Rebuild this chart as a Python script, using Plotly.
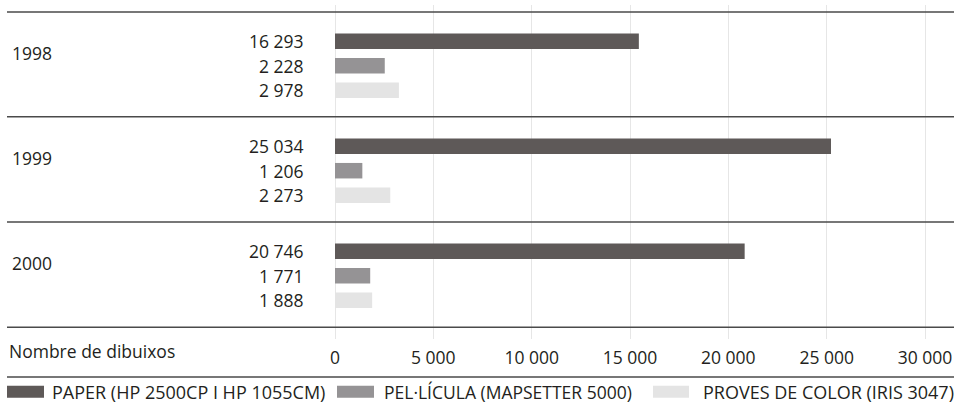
import plotly.graph_objects as go

# ---------------- data ----------------
years = ["1998", "1999", "2000"]
series_names = [
    "PAPER (HP 2500CP I HP 1055CM)",
    "PEL·LÍCULA (MAPSETTER 5000)",
    "PROVES DE COLOR (IRIS 3047)",
]
# bar lengths as drawn in the picture
paper = [15450, 25220, 20830]
pelicula = [2530, 1390, 1790]
proves = [3250, 2810, 1890]
# numbers printed next to the bars
paper_labels = ["16 293", "25 034", "20 746"]
pelicula_labels = ["2 228", "1 206", "1 771"]
proves_labels = ["2 978", "2 273", "1 888"]
tick_values = [0, 5000, 10000, 15000, 20000, 25000, 30000]
tick_labels = ["0", "5 000", "10 000", "15 000", "20 000", "25 000", "30 000"]
axis_title = "Nombre de dibuixos"

# ---------------- style ----------------
colors = ["#5e5958", "#959395", "#e4e4e4"]
W, H = 954, 407
FONT = "Open Sans"
FS = 17.5
TXT = "#231f20"
LINE = "#4a4a4a"


def py(px):
    return 1 - px / H


def pxx(px):
    return px / W


x0_px, x30_px = 335, 925
scale = (x30_px - x0_px) / 30000.0
x_range = [-x0_px / scale, (W - x0_px) / scale]

band = 105.0
top_px, bot_px = 5, 339
first_center = 65.7
y_range = [2 + (bot_px - (first_center + 2 * band)) / band,
           -(first_center - top_px) / band]

fig = go.Figure()
values = [paper, pelicula, proves]
for name, vals, col in zip(series_names, values, colors):
    fig.add_trace(go.Bar(
        y=years, x=vals, name=name, orientation="h",
        marker=dict(color=col, line=dict(width=0)),
        showlegend=False, hoverinfo="x+y",
    ))

annotations = []
label_sets = [paper_labels, pelicula_labels, proves_labels]
for gi, yr in enumerate(years):
    annotations.append(dict(
        x=pxx(10), xref="paper", y=gi, yref="y", yshift=12.25,
        text=yr, showarrow=False, xanchor="left", yanchor="middle",
        font=dict(family=FONT, size=FS, color=TXT)))
    for si, labs in enumerate(label_sets):
        annotations.append(dict(
            x=pxx(306), xref="paper", y=gi, yref="y", yshift=24.5 * (1 - si),
            text=labs[gi], showarrow=False, xanchor="right", yanchor="middle",
            font=dict(family=FONT, size=FS, color=TXT)))

annotations.append(dict(
    x=pxx(7), xref="paper", y=py(350.5), yref="paper", text=axis_title,
    showarrow=False, xanchor="left", yanchor="middle",
    font=dict(family=FONT, size=FS, color=TXT)))

shapes = []
for ypx in [12, 116.7, 222, 327.3, 377]:
    shapes.append(dict(type="line", xref="paper", yref="paper",
                       x0=pxx(7), x1=1, y0=py(ypx), y1=py(ypx),
                       line=dict(color=LINE, width=1.6)))

legend_sw = [(7, 44), (337, 374), (653, 689)]
legend_tx = [50, 381.5, 700.5]
legend_fs = [18, 17.5, 18]
for (a, b), tx, fs, name, col in zip(legend_sw, legend_tx, legend_fs,
                                     series_names, colors):
    shapes.append(dict(type="rect", xref="paper", yref="paper",
                       x0=pxx(a), x1=pxx(b), y0=py(397.7), y1=py(385.7),
                       fillcolor=col, line=dict(width=0)))
    annotations.append(dict(
        x=pxx(tx), xref="paper", y=py(391.5), yref="paper", text=name,
        showarrow=False, xanchor="left", yanchor="middle",
        font=dict(family=FONT, size=fs, color=TXT)))

fig.update_layout(
    width=W, height=H,
    margin=dict(l=0, r=0, t=0, b=0),
    paper_bgcolor="white", plot_bgcolor="white",
    barmode="group", bargap=0.3, bargroupgap=0.367,
    font=dict(family=FONT, size=FS, color=TXT),
    xaxis=dict(domain=[0, 1], range=x_range, tickvals=tick_values,
               ticktext=tick_labels, showgrid=True, gridcolor="#e6e6e6",
               gridwidth=1.2, zeroline=False, showline=False, ticks="",
               tickfont=dict(family=FONT, size=FS, color=TXT),
               ticklabelstandoff=6, fixedrange=True),
    yaxis=dict(domain=[py(bot_px), py(top_px)], range=y_range,
               type="category", showgrid=False, showticklabels=False,
               zeroline=False, showline=False, ticks="", fixedrange=True),
    shapes=shapes, annotations=annotations,
)

fig.write_html(
    "out.html",
    config={"displayModeBar": False},
    post_script="document.body.style.margin='0';document.body.style.overflow='hidden';",
)
